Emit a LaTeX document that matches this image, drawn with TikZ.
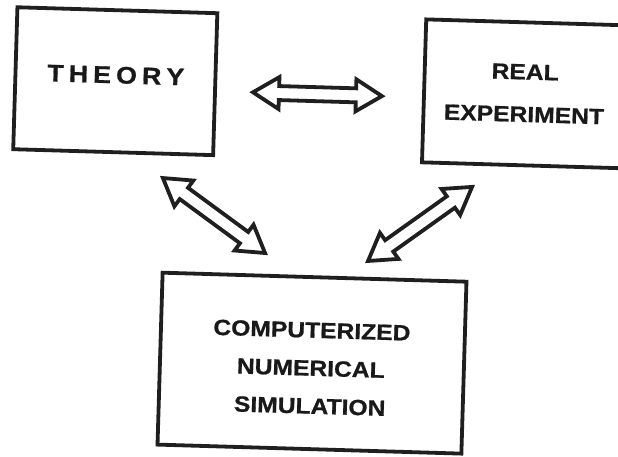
\documentclass[tikz,border=0pt]{standalone}
\usepackage{fontspec}
\newfontfamily\labelfont[FakeStretch=1.12,FakeBold=0.8]{Liberation Sans}
\usetikzlibrary{calc}
\newcommand\arrhead{26pt}
\newcommand\arrwide{16pt}
\newcommand\arrshaft{7pt}
\newcommand\blockarrow[2]{%
  \coordinate (#1p) at ($(#1)!\arrhead!(#2)$);
  \coordinate (#2p) at ($(#2)!\arrhead!(#1)$);
  \draw[blockarr] (#1) -- ($(#1p)!\arrwide!90:(#2)$) -- ($(#1p)!\arrshaft!90:(#2)$)
    -- ($(#2p)!\arrshaft!-90:(#1)$) -- ($(#2p)!\arrwide!-90:(#1)$) -- (#2)
    -- ($(#2p)!\arrwide!90:(#1)$) -- ($(#2p)!\arrshaft!90:(#1)$)
    -- ($(#1p)!\arrshaft!-90:(#2)$) -- ($(#1p)!\arrwide!-90:(#2)$) -- cycle;}
\begin{document}
\begin{tikzpicture}[x=1pt,y=-1pt,
  box/.style={draw=black!88, line width=3.8pt, inner sep=0pt},
  blockarr/.style={draw=black!88, line width=3.8pt, line join=miter, fill=white},
  lbl/.style={text=black!90, font=\labelfont\bfseries\fontsize{22}{38}\selectfont, align=center, inner sep=0pt}]
\fill[white] (0,0) rectangle (618,456);
\clip (0,0) rectangle (618,456);
\begin{scope}[rotate around={-1.7:(309,228)}, transform shape]
  \node[box, minimum width=200pt, minimum height=142pt] (theorybox) at (111,87) {};
  \node[box, minimum width=230pt, minimum height=143pt] (realbox) at (535,87.5) {};
  \node[box, minimum width=304pt, minimum height=172pt] (simbox) at (316,363) {};
  \node[lbl, font=\labelfont\bfseries\fontsize{24}{30}\selectfont] (theorytext) at (111.4,80.8)
    {T\kern5pt H\kern5pt E\kern5pt O\kern5pt R\kern5pt Y};
  \node[lbl, font=\labelfont\bfseries\fontsize{22}{42.5}\selectfont] (realtext) at (520.5,86.8)
    {REAL\\EXPERIMENT};
  \node[lbl] (simtext) at (315,368) {COMPUTERIZED\\NUMERICAL\\SIMULATION};
  \coordinate (ha) at (249,94);
  \coordinate (hb) at (378,94);
  \coordinate (la) at (161.5,182.4);
  \coordinate (lb) at (265.8,254.3);
  \coordinate (ra) at (470.8,182.1);
  \coordinate (rb) at (369,259.2);
  \blockarrow{ha}{hb}
  \blockarrow{la}{lb}
  \blockarrow{ra}{rb}
\end{scope}
\end{tikzpicture}
\end{document}
